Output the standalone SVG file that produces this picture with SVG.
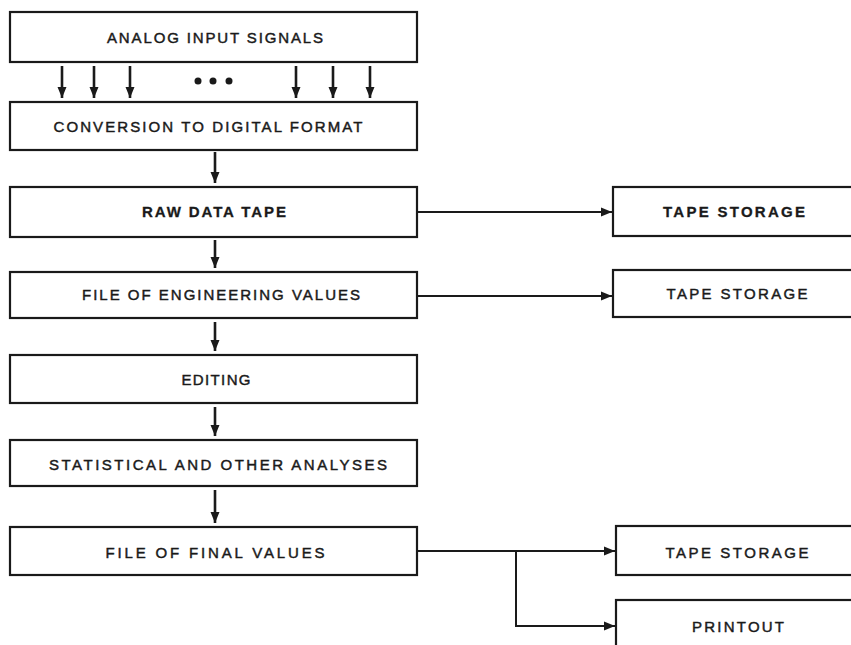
<svg xmlns="http://www.w3.org/2000/svg" width="851" height="645" viewBox="0 0 851 645">
<style>
.box{fill:#fff;stroke:#1a1a1a;stroke-width:2.2}
.t{font-family:"Liberation Sans",Arial,sans-serif;font-size:15px;fill:#1a1a1a;stroke:#1a1a1a;stroke-width:0.45;text-anchor:middle}
.b{font-weight:bold;stroke-width:0.3}
.c{fill:none;stroke:#1a1a1a;stroke-width:2}
.v{fill:none;stroke:#1a1a1a;stroke-width:2.6}
</style>
<defs>
<marker id="ah" markerUnits="userSpaceOnUse" markerWidth="12" markerHeight="11" refX="11" refY="5.5" orient="auto">
<path d="M0,1 L11,5.5 L0,10 Z" fill="#1a1a1a"/>
</marker>
</defs>
<rect width="851" height="645" fill="#fff"/>
<g id="n1"><rect class="box" x="10" y="12" width="407" height="50"/><text class="t" x="215" y="42.5" textLength="216" lengthAdjust="spacing">ANALOG INPUT SIGNALS</text></g>
<g id="n2"><rect class="box" x="10" y="102" width="407" height="48"/><text class="t" x="208" y="131.5" textLength="309" lengthAdjust="spacing">CONVERSION TO DIGITAL FORMAT</text></g>
<g id="n3"><rect class="box" x="10" y="187" width="407" height="50"/><text class="t b" x="214" y="216.5" textLength="144" lengthAdjust="spacing">RAW DATA TAPE</text></g>
<g id="n4"><rect class="box" x="10" y="272" width="407" height="46"/><text class="t" x="221" y="299.5" textLength="278" lengthAdjust="spacing">FILE OF ENGINEERING VALUES</text></g>
<g id="n5"><rect class="box" x="10" y="355" width="407" height="48"/><text class="t" x="216" y="384.5" textLength="69" lengthAdjust="spacing">EDITING</text></g>
<g id="n6"><rect class="box" x="10" y="440" width="407" height="46"/><text class="t" x="218" y="469.5" textLength="338" lengthAdjust="spacing">STATISTICAL AND OTHER ANALYSES</text></g>
<g id="n7"><rect class="box" x="10" y="527" width="407" height="48"/><text class="t" x="215" y="557.5" textLength="219" lengthAdjust="spacing">FILE OF FINAL VALUES</text></g>
<g id="s1"><rect class="box" x="613" y="187" width="250" height="49"/><text class="t b" x="734" y="216.5" textLength="142" lengthAdjust="spacing">TAPE STORAGE</text></g>
<g id="s2"><rect class="box" x="613" y="270" width="250" height="47"/><text class="t" x="737" y="298.5" textLength="141" lengthAdjust="spacing">TAPE STORAGE</text></g>
<g id="s3"><rect class="box" x="616" y="526" width="250" height="49"/><text class="t" x="737" y="557.5" textLength="143" lengthAdjust="spacing">TAPE STORAGE</text></g>
<g id="s4"><rect class="box" x="616" y="600" width="250" height="60"/><text class="t" x="738" y="631.5" textLength="92" lengthAdjust="spacing">PRINTOUT</text></g>
<g id="dots" fill="#1a1a1a"><circle cx="198" cy="81" r="3.5"/><circle cx="213" cy="81" r="3.5"/><circle cx="229" cy="81" r="3.5"/></g>
<g id="connectors">
<path class="v" d="M62,66 V98" marker-end="url(#ah)"/>
<path class="v" d="M94,66 V98" marker-end="url(#ah)"/>
<path class="v" d="M130,66 V98" marker-end="url(#ah)"/>
<path class="v" d="M296,66 V98" marker-end="url(#ah)"/>
<path class="v" d="M333,66 V98" marker-end="url(#ah)"/>
<path class="v" d="M370,66 V98" marker-end="url(#ah)"/>
<path class="v" d="M215,152 V183" marker-end="url(#ah)"/>
<path class="v" d="M215,240 V268" marker-end="url(#ah)"/>
<path class="v" d="M215,322 V351" marker-end="url(#ah)"/>
<path class="v" d="M215,407 V436" marker-end="url(#ah)"/>
<path class="v" d="M215,490 V523" marker-end="url(#ah)"/>
<path class="c" d="M418,212 H612" marker-end="url(#ah)"/>
<path class="c" d="M418,296 H612" marker-end="url(#ah)"/>
<path class="c" d="M418,551 H615" marker-end="url(#ah)"/>
<path class="c" d="M516,551 V626 H615" marker-end="url(#ah)"/>
</g>
</svg>
